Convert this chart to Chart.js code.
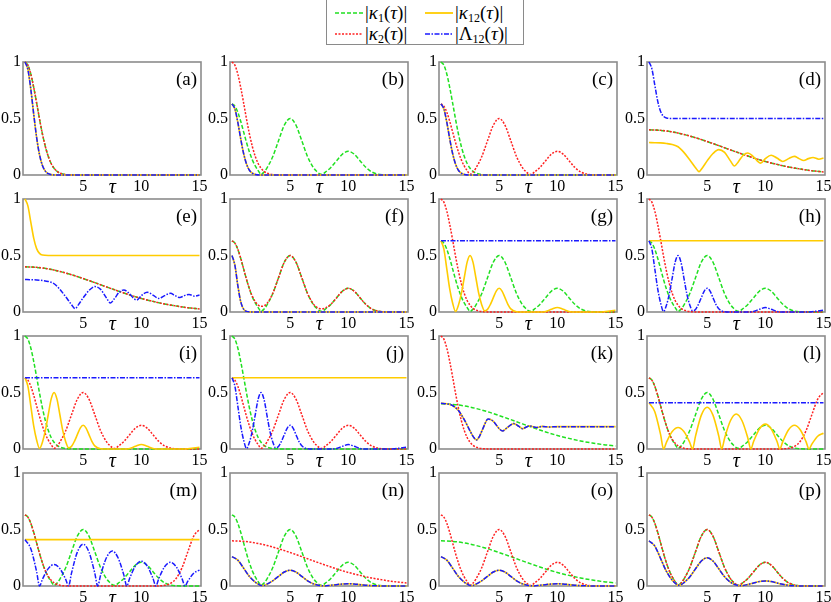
<!DOCTYPE html>
<html>
<head>
<meta charset="utf-8">
<script src="https://cdn.jsdelivr.net/npm/chart.js@4.4.0/dist/chart.umd.min.js"></script>
<style>
  html, body { margin: 0; padding: 0; background: #fff; }
  body { width: 831px; height: 602px; position: relative; overflow: hidden; font-family: 'Liberation Serif', 'Times New Roman', serif; }
  canvas.panel { position: absolute; }
  #legend { position: absolute; left: 326px; top: -1px; width: 198px; height: 46px; border: 1px solid #8a8a8a; box-sizing: border-box; }
  .item { position: absolute; height: 20px; display: flex; align-items: center; font-size: 19px; white-space: nowrap; font-family: 'Liberation Serif', serif; }
  .item svg { margin-right: 2px; }
  .item i { font-style: italic; }
  .item sub { font-size: 12px; vertical-align: -3px; line-height: 0; }
</style>
</head>
<body>
<div id="legend">
  <div class="item" style="left:8px;top:3px"><svg width="28" height="6"><line x1="0" y1="3" x2="28" y2="3" stroke="#20e020" stroke-width="1.6" stroke-dasharray="4 2"/></svg><span>|<i>κ</i><sub>1</sub>(<i>τ</i>)|</span></div>
  <div class="item" style="left:98px;top:3px"><svg width="28" height="6"><line x1="0" y1="3" x2="28" y2="3" stroke="#ffcc00" stroke-width="1.8"/></svg><span>|<i>κ</i><sub>12</sub>(<i>τ</i>)|</span></div>
  <div class="item" style="left:8px;top:24px"><svg width="28" height="6"><line x1="0" y1="3" x2="28" y2="3" stroke="#ff2020" stroke-width="1.6" stroke-dasharray="2 1.5"/></svg><span>|<i>κ</i><sub>2</sub>(<i>τ</i>)|</span></div>
  <div class="item" style="left:98px;top:24px"><svg width="28" height="6"><line x1="0" y1="3" x2="28" y2="3" stroke="#1a1aff" stroke-width="1.6" stroke-dasharray="5 1.5 1.5 1.5"/></svg><span>|Λ<sub>12</sub>(<i>τ</i>)|</span></div>
</div>
<script>
// tick labels
const X_TICKS = [5, 10, 15];
const Y_TICKS = [0, 0.5, 1];
const TAGS = ['(a)', '(b)', '(c)', '(d)', '(e)', '(f)', '(g)', '(h)',
              '(i)', '(j)', '(k)', '(l)', '(m)', '(n)', '(o)', '(p)'];

// curves, [tau, value]
const F1 = [[0,1],[0.25,0.972],[0.5,0.894],[0.75,0.776],[1,0.638],[1.25,0.495],[1.5,0.363],[1.75,0.252],[2,0.165],[2.25,0.102],[2.5,0.06],[2.75,0.033],[3,0.017],[3.5,0.004],[4,0.001],[5,0],[15,0]];
const F2 = [[0,1],[0.25,0.934],[0.5,0.76],[0.75,0.539],[1,0.333],[1.25,0.179],[1.5,0.084],[1.75,0.034],[2,0.012],[2.5,0.001],[3,0],[15,0]];
const F3 = [[0,0.63],[0.25,0.585],[0.5,0.467],[0.75,0.321],[1,0.19],[1.25,0.097],[1.5,0.042],[1.75,0.016],[2,0.005],[2.5,0],[15,0]];
const F4 = [[0,0.5],[0.25,0.414],[0.5,0.236],[0.75,0.092],[1,0.025],[1.25,0.005],[1.5,0.001],[2,0],[15,0]];
const D = [[0,1],[0.25,0.939],[0.5,0.796],[0.75,0.654],[1,0.561],[1.25,0.519],[1.5,0.504],[2,0.5],[15,0.5]];
const S = [[0,0.4],[1,0.395],[2,0.381],[3,0.359],[4,0.33],[5,0.296],[6,0.26],[7,0.222],[8,0.186],[9,0.151],[10,0.12],[11,0.094],[12,0.071],[13,0.053],[14,0.038],[15,0.027]];
const YD = [[0,0.287],[0.5,0.286],[1,0.284],[1.5,0.279],[2,0.27],[2.5,0.25],[3,0.2],[3.5,0.135],[4,0.065],[4.3,0.03],[4.6,0.065],[5,0.125],[5.5,0.19],[6,0.225],[6.5,0.2],[7,0.125],[7.35,0.08],[7.7,0.12],[8.1,0.175],[8.5,0.195],[8.9,0.17],[9.3,0.125],[9.6,0.105],[10,0.145],[10.5,0.175],[11,0.15],[11.5,0.12],[12,0.145],[12.5,0.165],[12.9,0.145],[13.3,0.128],[13.7,0.145],[14.1,0.155],[14.6,0.14],[15,0.15]];
const K = [[0,0.405],[0.5,0.4],[1,0.385],[1.5,0.34],[2,0.26],[2.5,0.16],[2.8,0.105],[3.05,0.08],[3.3,0.11],[3.6,0.18],[4.05,0.265],[4.5,0.245],[5,0.18],[5.3,0.16],[5.7,0.19],[6.25,0.225],[6.7,0.2],[7,0.18],[7.6,0.205],[8.2,0.19],[8.7,0.2],[9.3,0.195],[10,0.198],[15,0.198]];
const Y2 = [[0,0.63],[0.25,0.556],[0.5,0.382],[0.75,0.205],[1,0.08],[1.25,0.005],[1.5,0.06],[1.75,0.162],[2,0.303],[2.25,0.441],[2.5,0.5],[2.75,0.441],[3,0.303],[3.25,0.162],[3.5,0.065],[3.75,0.01],[4,0.023],[4.25,0.068],[4.5,0.127],[4.75,0.185],[5,0.21],[5.25,0.185],[5.5,0.127],[5.75,0.068],[6,0.028],[6.5,0.002],[7,0],[8.5,0],[9,0.005],[9.5,0.024],[10,0.04],[10.5,0.024],[11,0.005],[11.5,0],[13.5,0],[14,0.002],[14.5,0.009],[15,0.016]];
const YL = [[0,0.41],[0.5,0.33],[1,0.127],[1.25,0],[1.5,0.059],[2,0.154],[2.5,0.19],[3,0.154],[3.5,0.059],[3.75,0],[4,0.114],[4.5,0.3],[5,0.37],[5.5,0.3],[6,0.114],[6.25,0],[6.5,0.096],[7,0.25],[7.5,0.31],[8,0.25],[8.5,0.096],[8.75,0],[9,0.068],[9.5,0.178],[10,0.22],[10.5,0.178],[11,0.068],[11.25,0],[11.5,0.065],[12,0.17],[12.5,0.21],[13,0.17],[13.5,0.065],[13.75,0],[14,0.043],[14.5,0.113],[15,0.14]];
const O = [[0,0.63],[0.25,0.61],[0.5,0.556],[0.75,0.476],[1,0.382],[1.25,0.288],[1.5,0.204],[1.75,0.134],[2,0.08],[2.25,0.039],[2.5,0.006],[2.75,0.025],[3,0.061],[3.5,0.161],[4,0.303],[4.5,0.441],[5,0.5],[5.5,0.441],[6,0.303],[6.5,0.162],[7,0.065],[7.25,0.035],[7.5,0.013],[7.75,0.005],[8,0.023],[8.5,0.067],[9,0.127],[9.5,0.185],[10,0.21],[10.5,0.185],[11,0.127],[11.5,0.068],[12,0.028],[12.5,0.009],[13,0.002],[13.5,0],[15,0]];
const OSUM = [[0,0.63],[0.25,0.61],[0.5,0.556],[0.75,0.476],[1,0.382],[1.25,0.288],[1.5,0.206],[1.75,0.139],[2,0.091],[2.25,0.062],[2.5,0.05],[2.75,0.054],[3,0.075],[3.5,0.164],[4,0.303],[4.5,0.441],[5,0.5],[5.5,0.441],[6,0.303],[6.5,0.163],[7,0.07],[7.25,0.045],[7.5,0.031],[7.75,0.028],[8,0.034],[8.5,0.069],[9,0.127],[9.5,0.185],[10,0.21],[10.5,0.185],[11,0.127],[11.5,0.068],[12,0.028],[12.5,0.009],[13,0.002],[13.5,0],[15,0]];
const ML = [[0,0.63],[0.25,0.61],[0.5,0.556],[0.75,0.476],[1,0.382],[1.25,0.288],[1.5,0.205],[1.75,0.136],[2,0.085],[2.5,0.028],[3,0.007],[3.5,0.001],[4,0],[11,0],[11.5,0.001],[12,0.006],[12.5,0.022],[13,0.068],[13.5,0.162],[14,0.303],[14.5,0.441],[15,0.5]];
const Q = [[0,0.26],[0.5,0.229],[1,0.158],[1.5,0.084],[2,0.034],[2.25,0.018],[2.5,0.005],[2.75,0.005],[3,0.016],[3.5,0.046],[4,0.085],[4.5,0.124],[5,0.14],[5.5,0.124],[6,0.085],[6.5,0.046],[7,0.019],[7.5,0.005],[8,0.001],[8.5,0.007],[9,0.012],[9.5,0.018],[10,0.02],[10.5,0.018],[11,0.012],[11.5,0.007],[12,0.003],[12.5,0.001],[13,0],[15,0]];
const R = [[0,0.4],[0.5,0.353],[1,0.243],[1.5,0.129],[2,0.051],[2.25,0.026],[2.5,0.007],[2.75,0.011],[3,0.029],[3.5,0.08],[4,0.152],[4.5,0.221],[5,0.25],[5.5,0.221],[6,0.152],[6.5,0.081],[7,0.033],[7.5,0.009],[8,0.003],[8.5,0.014],[9,0.027],[9.5,0.04],[10,0.045],[10.5,0.04],[11,0.027],[11.5,0.015],[12,0.006],[12.5,0.002],[13,0],[15,0]];
const C63 = [[0,0.63],[15,0.63]];
const C41 = [[0,0.41],[15,0.41]];

// which curve is |k1|, |k2|, |k12|, |L12| in each panel
const K1  = [F1, O,  F1, S,  S,  O,    O,   O,   F1,  F1,  S,  O,  O,   O, S, O];
const K2  = [F1, F1, O,  S,  S,  OSUM, F1,  F1,  O,   O,   F1, ML, ML,  S, O, O];
const K12 = [F2, F3, F3, YD, D,  F4,   Y2,  C63, Y2,  C63, K,  YL, C41, Q, Q, R];
const L12 = [F2, F3, F3, D,  YD, F4,   C63, Y2,  C63, Y2,  K,  C41, YL, Q, Q, R];

const COL_LEFT = [23, 230, 439, 647];
const ROW_TOP = [62, 199, 336, 473];
const FRAME_W = 178, FRAME_H = 113;
const PAD_L = 32, PAD_T = 12, PAD_R = 12, PAD_B = 26;
const SERIF = "'Liberation Serif', serif";

const panelDecor = {
    id: 'panelDecor',
    beforeDatasetsDraw(chart) {
        const a = chart.chartArea, ctx = chart.ctx;
        ctx.save();
        ctx.strokeStyle = '#8c8c8c';
        ctx.lineWidth = 1.6;
        ctx.strokeRect(a.left, a.top, a.right - a.left, a.bottom - a.top);
        ctx.restore();
    },
    afterDraw(chart, args, opts) {
        const a = chart.chartArea, ctx = chart.ctx;
        ctx.save();
        ctx.fillStyle = '#000';
        ctx.font = '19px ' + SERIF;
        ctx.textAlign = 'right';
        ctx.textBaseline = 'alphabetic';
        ctx.fillText(opts.tag, a.right - 4, a.top + 23);
        ctx.font = 'italic 20px ' + SERIF;
        ctx.textAlign = 'center';
        ctx.fillText('τ', chart.scales.x.getPixelForValue(7.5), a.bottom + 18);
        ctx.restore();
    }
};

function series(label, points, color, dash, order, width) {
    return {
        label: label,
        data: points.map(p => ({ x: p[0], y: p[1] })),
        borderColor: color,
        borderDash: dash,
        borderWidth: width,
        order: order,
        pointRadius: 0,
        fill: false,
        cubicInterpolationMode: 'monotone',
        clip: 3
    };
}

TAGS.forEach((tag, i) => {
    const row = Math.floor(i / 4), col = i % 4;
    const canvas = document.createElement('canvas');
    canvas.className = 'panel';
    canvas.width = PAD_L + FRAME_W + PAD_R;
    canvas.height = PAD_T + FRAME_H + PAD_B;
    canvas.style.left = (COL_LEFT[col] - PAD_L) + 'px';
    canvas.style.top = (ROW_TOP[row] - PAD_T) + 'px';
    canvas.style.width = canvas.width + 'px';
    canvas.style.height = canvas.height + 'px';
    document.body.appendChild(canvas);

    new Chart(canvas.getContext('2d'), {
        type: 'line',
        data: {
            datasets: [
                series('|κ1(τ)|', K1[i], '#20e020', [4, 2], 4, 1.5),
                series('|κ2(τ)|', K2[i], '#ff2020', [2, 1.5], 3, 1.5),
                series('|κ12(τ)|', K12[i], '#ffcc00', [], 2, 1.6),
                series('|Λ12(τ)|', L12[i], '#1a1aff', [5, 1.5, 1.5, 1.5], 1, 1.5)
            ]
        },
        options: {
            responsive: false,
            animation: false,
            events: [],
            layout: { padding: { left: 0, top: PAD_T, right: PAD_R, bottom: 0 } },
            plugins: {
                legend: { display: false },
                tooltip: { enabled: false },
                panelDecor: { tag: tag }
            },
            scales: {
                x: {
                    type: 'linear',
                    min: -0.17,
                    max: 15.13,
                    grid: { display: false, drawTicks: false },
                    border: { display: false },
                    ticks: { color: '#000', font: { family: SERIF, size: 16 }, padding: 2, maxRotation: 0, callback: v => String(v) },
                    afterBuildTicks: s => { s.ticks = X_TICKS.map(v => ({ value: v })); },
                    afterFit: s => { s.height = PAD_B; }
                },
                y: {
                    type: 'linear',
                    min: 0,
                    max: 1,
                    grid: { display: false, drawTicks: false },
                    border: { display: false },
                    ticks: { color: '#000', font: { family: SERIF, size: 16 }, padding: 2, callback: v => String(v) },
                    afterBuildTicks: s => { s.ticks = Y_TICKS.map(v => ({ value: v })); },
                    afterFit: s => { s.width = PAD_L; }
                }
            }
        },
        plugins: [panelDecor]
    });
});
</script>
</body>
</html>
